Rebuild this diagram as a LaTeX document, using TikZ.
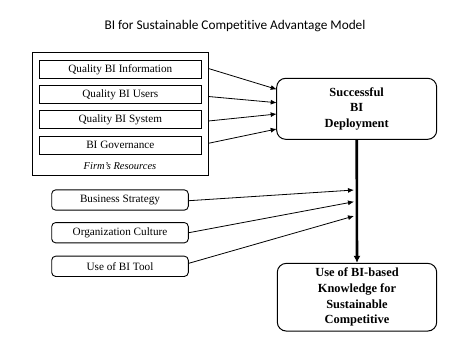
\documentclass[tikz,border=0pt]{standalone}
\usepackage{fontspec}
\setmainfont{Liberation Serif}
\newfontfamily\titlefont[Ligatures=NoCommon]{Carlito}
\usetikzlibrary{arrows.meta}
\begin{document}
\begin{tikzpicture}[x=1pt,y=-1pt,
  resbox/.style={draw,line width=0.9pt,minimum width=162.7pt,minimum height=17.6pt,inner sep=0pt,font=\fontsize{11.2}{13}\selectfont},
  factorbox/.style={draw,line width=0.9pt,rounded corners=4pt,minimum width=136.6pt,minimum height=20.3pt,inner sep=0pt,font=\fontsize{11.2}{13}\selectfont},
  outcomebox/.style={draw,line width=1pt,rounded corners=9pt,inner sep=0pt,align=center,font=\bfseries\fontsize{12.4}{15.6}\selectfont},
  conn/.style={line width=0.8pt,-{Latex[length=6pt,width=5pt]}},
  mainconn/.style={line width=2.6pt,-{Latex[length=7pt,width=7pt]}}]
\useasboundingbox (0,0) rectangle (466,349);
\node[font=\titlefont\fontsize{13.3}{16}\selectfont] (title) at (235,26.5) {BI for Sustainable Competitive Advantage Model};
\node[draw,line width=0.9pt,minimum width=176pt,minimum height=123pt,inner sep=0pt] (firm) at (120,113.5) {};
\node[resbox] (info) at (120.3,69.5) {Quality BI Information};
\node[resbox] (users) at (120.3,94.5) {Quality BI Users};
\node[resbox] (system) at (120.3,119.5) {Quality BI System};
\node[resbox] (gov) at (120.3,145.3) {BI Governance};
\node[font=\itshape\fontsize{10.5}{12}\selectfont] (firmlabel) at (120,166) {Firm's Resources};
\node[outcomebox,minimum width=160pt,minimum height=61pt] (succ) at (356.7,108.8) {Successful\\BI\\Deployment};
\node[outcomebox,minimum width=159.4pt,minimum height=67.7pt] (use) at (357,297.2) {Use of BI-based\\Knowledge for\\Sustainable\\Competitive};
\node[factorbox] (strategy) at (120,200) {Business Strategy};
\node[factorbox] (culture) at (120,232.7) {Organization Culture};
\node[factorbox] (tool) at (120,266.3) {Use of BI Tool};
\coordinate (a1) at (276.7,89.3);
\coordinate (a2) at (276.7,102.7);
\coordinate (a3) at (276.7,114);
\coordinate (a4) at (276.7,129);
\draw[conn] (info.east -| firm.east) ++(0,-1) -- (a1);
\draw[conn] (users.east -| firm.east) ++(0,2) -- (a2);
\draw[conn] (system.east -| firm.east) ++(0,1.5) -- (a3);
\draw[conn] (gov.east -| firm.east) ++(0,-2) -- (a4);
\draw[mainconn] (succ.south) -- (use.north);
\coordinate (b1) at (354,190);
\coordinate (b2) at (354,201.7);
\coordinate (b3) at (354,216);
\draw[conn] (strategy.east) ++(0,0.7) -- (b1);
\draw[conn] (culture.east) -- (b2);
\draw[conn] (tool.east) ++(0,-3) -- (b3);
\end{tikzpicture}
\end{document}
